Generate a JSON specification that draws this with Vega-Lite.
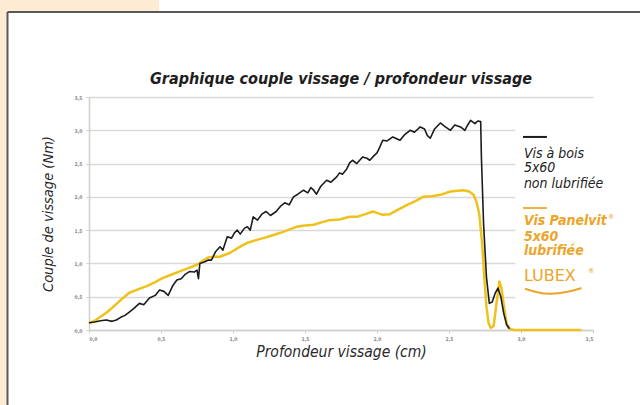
{
  "$schema": "https://vega.github.io/schema/vega-lite/v6.json",
  "width": 504,
  "height": 233,
  "autosize": {"type": "none"},
  "padding": {"left": 89, "top": 97, "right": 47, "bottom": 75},
  "background": "white",
  "config": {
    "view": {"stroke": null},
    "font": "DejaVu Sans Condensed, Liberation Sans Narrow, sans-serif"
  },
  "datasets": {
    "black": [
      {"x": 0.00, "y": 0.11}, {"x": 0.04, "y": 0.12}, {"x": 0.08, "y": 0.14}, {"x": 0.12, "y": 0.15},
      {"x": 0.16, "y": 0.13}, {"x": 0.19, "y": 0.15}, {"x": 0.22, "y": 0.19}, {"x": 0.25, "y": 0.22},
      {"x": 0.28, "y": 0.27}, {"x": 0.31, "y": 0.32}, {"x": 0.35, "y": 0.40}, {"x": 0.38, "y": 0.38},
      {"x": 0.42, "y": 0.48}, {"x": 0.46, "y": 0.52}, {"x": 0.49, "y": 0.60}, {"x": 0.52, "y": 0.58},
      {"x": 0.55, "y": 0.52}, {"x": 0.58, "y": 0.66}, {"x": 0.61, "y": 0.75}, {"x": 0.64, "y": 0.77},
      {"x": 0.67, "y": 0.84}, {"x": 0.70, "y": 0.88}, {"x": 0.73, "y": 0.87}, {"x": 0.75, "y": 0.90},
      {"x": 0.76, "y": 0.77}, {"x": 0.77, "y": 1.00}, {"x": 0.80, "y": 1.02}, {"x": 0.83, "y": 1.05},
      {"x": 0.85, "y": 1.05}, {"x": 0.88, "y": 1.18}, {"x": 0.91, "y": 1.25}, {"x": 0.93, "y": 1.20},
      {"x": 0.96, "y": 1.40}, {"x": 0.99, "y": 1.38}, {"x": 1.01, "y": 1.46}, {"x": 1.03, "y": 1.50},
      {"x": 1.05, "y": 1.44}, {"x": 1.08, "y": 1.53}, {"x": 1.10, "y": 1.55}, {"x": 1.12, "y": 1.50},
      {"x": 1.14, "y": 1.70}, {"x": 1.17, "y": 1.65}, {"x": 1.20, "y": 1.74}, {"x": 1.23, "y": 1.78},
      {"x": 1.26, "y": 1.72}, {"x": 1.30, "y": 1.78}, {"x": 1.33, "y": 1.86}, {"x": 1.36, "y": 1.91},
      {"x": 1.39, "y": 1.88}, {"x": 1.42, "y": 2.00}, {"x": 1.45, "y": 2.04}, {"x": 1.49, "y": 2.10},
      {"x": 1.52, "y": 2.06}, {"x": 1.54, "y": 2.14}, {"x": 1.56, "y": 2.10}, {"x": 1.58, "y": 2.04},
      {"x": 1.61, "y": 2.16}, {"x": 1.65, "y": 2.25}, {"x": 1.68, "y": 2.22}, {"x": 1.72, "y": 2.30},
      {"x": 1.74, "y": 2.36}, {"x": 1.76, "y": 2.34}, {"x": 1.79, "y": 2.42}, {"x": 1.81, "y": 2.51},
      {"x": 1.83, "y": 2.55}, {"x": 1.86, "y": 2.50}, {"x": 1.90, "y": 2.60}, {"x": 1.93, "y": 2.58},
      {"x": 1.95, "y": 2.55}, {"x": 1.98, "y": 2.62}, {"x": 2.00, "y": 2.66}, {"x": 2.02, "y": 2.75},
      {"x": 2.04, "y": 2.85}, {"x": 2.07, "y": 2.84}, {"x": 2.11, "y": 2.90}, {"x": 2.14, "y": 2.87},
      {"x": 2.16, "y": 2.85}, {"x": 2.19, "y": 2.93}, {"x": 2.23, "y": 3.00}, {"x": 2.26, "y": 2.97},
      {"x": 2.30, "y": 3.05}, {"x": 2.33, "y": 3.02}, {"x": 2.35, "y": 2.92}, {"x": 2.37, "y": 2.88},
      {"x": 2.40, "y": 3.02}, {"x": 2.44, "y": 3.11}, {"x": 2.47, "y": 3.06}, {"x": 2.51, "y": 3.00},
      {"x": 2.54, "y": 3.08}, {"x": 2.58, "y": 3.05}, {"x": 2.61, "y": 3.00}, {"x": 2.63, "y": 3.08},
      {"x": 2.65, "y": 3.15}, {"x": 2.68, "y": 3.10}, {"x": 2.70, "y": 3.14}, {"x": 2.72, "y": 3.13},
      {"x": 2.725, "y": 2.60}, {"x": 2.74, "y": 1.60}, {"x": 2.76, "y": 0.80}, {"x": 2.78, "y": 0.40},
      {"x": 2.80, "y": 0.42}, {"x": 2.82, "y": 0.55}, {"x": 2.84, "y": 0.63}, {"x": 2.86, "y": 0.50},
      {"x": 2.88, "y": 0.25}, {"x": 2.90, "y": 0.08}, {"x": 2.92, "y": 0.02}
    ],
    "yellow": [
      {"x": 0.00, "y": 0.10}, {"x": 0.04, "y": 0.14}, {"x": 0.08, "y": 0.20}, {"x": 0.12, "y": 0.26},
      {"x": 0.17, "y": 0.35}, {"x": 0.22, "y": 0.45}, {"x": 0.28, "y": 0.56}, {"x": 0.34, "y": 0.61},
      {"x": 0.40, "y": 0.66}, {"x": 0.46, "y": 0.72}, {"x": 0.51, "y": 0.78}, {"x": 0.57, "y": 0.83},
      {"x": 0.63, "y": 0.88}, {"x": 0.69, "y": 0.93}, {"x": 0.75, "y": 0.98}, {"x": 0.79, "y": 1.04},
      {"x": 0.83, "y": 1.09}, {"x": 0.87, "y": 1.10}, {"x": 0.91, "y": 1.10}, {"x": 0.98, "y": 1.16},
      {"x": 1.04, "y": 1.24}, {"x": 1.10, "y": 1.31}, {"x": 1.16, "y": 1.35}, {"x": 1.21, "y": 1.38},
      {"x": 1.27, "y": 1.42}, {"x": 1.33, "y": 1.46}, {"x": 1.38, "y": 1.50}, {"x": 1.44, "y": 1.55},
      {"x": 1.50, "y": 1.57}, {"x": 1.56, "y": 1.58}, {"x": 1.62, "y": 1.62}, {"x": 1.67, "y": 1.65},
      {"x": 1.74, "y": 1.66}, {"x": 1.81, "y": 1.70}, {"x": 1.86, "y": 1.70}, {"x": 1.92, "y": 1.74},
      {"x": 1.97, "y": 1.78}, {"x": 2.00, "y": 1.76}, {"x": 2.04, "y": 1.73}, {"x": 2.09, "y": 1.74},
      {"x": 2.14, "y": 1.80}, {"x": 2.21, "y": 1.88}, {"x": 2.27, "y": 1.94}, {"x": 2.32, "y": 2.00},
      {"x": 2.38, "y": 2.01}, {"x": 2.44, "y": 2.03}, {"x": 2.51, "y": 2.08}, {"x": 2.56, "y": 2.09},
      {"x": 2.60, "y": 2.10}, {"x": 2.64, "y": 2.08}, {"x": 2.67, "y": 2.03}, {"x": 2.69, "y": 1.93},
      {"x": 2.71, "y": 1.75}, {"x": 2.73, "y": 1.30}, {"x": 2.745, "y": 0.80}, {"x": 2.76, "y": 0.35},
      {"x": 2.775, "y": 0.10}, {"x": 2.79, "y": 0.03}, {"x": 2.81, "y": 0.06}, {"x": 2.83, "y": 0.40},
      {"x": 2.85, "y": 0.73}, {"x": 2.865, "y": 0.62}, {"x": 2.88, "y": 0.38}, {"x": 2.90, "y": 0.10},
      {"x": 2.92, "y": 0.02}, {"x": 2.95, "y": 0.00}, {"x": 3.42, "y": 0.00}
    ]
  },
  "encoding": {
    "x": {
      "field": "x",
      "type": "quantitative",
      "scale": {"domain": [0, 3.5], "nice": false, "zero": false},
      "axis": {
        "title": "Profondeur vissage (cm)",
        "values": [0, 0.5, 1, 1.5, 2, 2.5, 3, 3.5],
        "labelExpr": "replace(format(datum.value, '.1f'), '.', ',')",
        "grid": false,
        "domainColor": "#cfcfcf",
        "domainWidth": 1.5,
        "tickColor": "#cfcfcf",
        "tickSize": 3,
        "labelFontSize": 5,
        "labelFontWeight": "bold",
        "labelColor": "#8a8a8a",
        "labelPadding": 3,
        "titleFont": "DejaVu Sans Condensed, sans-serif",
        "titleFontSize": 15.5,
        "titleFontStyle": "italic",
        "titleFontWeight": "normal",
        "titleColor": "#2a2a2a",
        "titlePadding": 3
      }
    },
    "y": {
      "field": "y",
      "type": "quantitative",
      "scale": {"domain": [0, 3.5], "nice": false, "zero": false},
      "axis": {
        "title": "Couple de vissage (Nm)",
        "values": [0, 0.5, 1, 1.5, 2, 2.5, 3, 3.5],
        "labelExpr": "replace(format(datum.value, '.1f'), '.', ',')",
        "grid": true,
        "gridColor": "#d9d9d9",
        "gridWidth": 1.3,
        "domainColor": "#cfcfcf",
        "domainWidth": 1.5,
        "tickColor": "#cfcfcf",
        "tickSize": 3,
        "labelFontSize": 5,
        "labelFontWeight": "bold",
        "labelColor": "#8a8a8a",
        "labelPadding": 4,
        "titleFont": "DejaVu Sans Condensed, sans-serif",
        "titleFontSize": 14.5,
        "titleFontStyle": "italic",
        "titleFontWeight": "normal",
        "titleColor": "#2a2a2a",
        "titlePadding": 19
      }
    }
  },
  "layer": [
    {
      "data": {"values": [
        {"x": -0.62, "x2": 0.486, "y": 4.777, "y2": 4.96},
        {"x": -0.62, "x2": -0.566, "y": -1.2, "y2": 4.96}
      ]},
      "mark": {"type": "rect", "fill": "#FDEBD3", "clip": false},
      "encoding": {"x2": {"field": "x2"}, "y2": {"field": "y2"}}
    },
    {
      "data": {"values": [
        {"x": -0.566, "x2": 3.9, "y": 4.777, "y2": 4.777},
        {"x": -0.566, "x2": -0.566, "y": 4.777, "y2": -1.2}
      ]},
      "mark": {"type": "rule", "stroke": "#595959", "strokeWidth": 2, "clip": false},
      "encoding": {"x2": {"field": "x2"}, "y2": {"field": "y2"}}
    },
    {
      "data": {"values": [{"x": 1.75, "y": 3.775, "label": "Graphique couple vissage / profondeur vissage"}]},
      "mark": {"type": "text", "align": "center", "baseline": "middle", "fontSize": 16, "fontStyle": "italic", "fontWeight": "bold", "color": "#1e1e1e", "clip": false},
      "encoding": {"text": {"field": "label"}}
    },
    {
      "data": {"name": "yellow"},
      "mark": {"type": "line", "stroke": "#EEC21B", "strokeWidth": 2.5, "strokeJoin": "round"},
      "encoding": {}
    },
    {
      "data": {"name": "black"},
      "mark": {"type": "line", "stroke": "#1c1c1c", "strokeWidth": 1.6, "strokeJoin": "round"},
      "encoding": {}
    },
    {
      "data": {"values": [{"x": 2.96, "x2": 3.9, "y": 0.2, "y2": 3.25}]},
      "mark": {"type": "rect", "fill": "white", "clip": false},
      "encoding": {"x2": {"field": "x2"}, "y2": {"field": "y2"}}
    },
    {
      "data": {"values": [{"x": 3.014, "x2": 3.18, "y": 2.9}]},
      "mark": {"type": "rule", "stroke": "#1c1c1c", "strokeWidth": 2, "clip": false},
      "encoding": {"x2": {"field": "x2"}}
    },
    {
      "data": {"values": [{"x": 3.014, "x2": 3.18, "y": 1.833}]},
      "mark": {"type": "rule", "stroke": "#EDB43A", "strokeWidth": 2, "clip": false},
      "encoding": {"x2": {"field": "x2"}}
    },
    {
      "data": {"values": [
        {"x": 3.02, "y": 2.644, "label": "Vis à bois"},
        {"x": 3.02, "y": 2.433, "label": "5x60"},
        {"x": 3.02, "y": 2.193, "label": "non lubrifiée"}
      ]},
      "mark": {"type": "text", "align": "left", "baseline": "middle", "fontSize": 14, "fontStyle": "italic", "color": "#222222", "clip": false},
      "encoding": {"text": {"field": "label"}}
    },
    {
      "data": {"values": [
        {"x": 3.02, "y": 1.637, "label": "Vis Panelvit"},
        {"x": 3.02, "y": 1.397, "label": "5x60"},
        {"x": 3.02, "y": 1.187, "label": "lubrifiée"}
      ]},
      "mark": {"type": "text", "align": "left", "baseline": "middle", "fontSize": 14, "fontStyle": "italic", "fontWeight": "bold", "color": "#EBA52A", "clip": false},
      "encoding": {"text": {"field": "label"}}
    },
    {
      "data": {"values": [{"x": 3.02, "y": 0.811, "label": "LUBEX"}]},
      "mark": {"type": "text", "align": "left", "baseline": "middle", "fontSize": 16, "font": "DejaVu Sans", "color": "#EBA52A", "clip": false},
      "encoding": {"text": {"field": "label"}}
    },
    {
      "data": {"values": [
        {"x": 3.605, "y": 1.69, "label": "®"},
        {"x": 3.465, "y": 0.88, "label": "®"}
      ]},
      "mark": {"type": "text", "align": "left", "baseline": "middle", "fontSize": 7, "color": "#EBA52A", "clip": false},
      "encoding": {"text": {"field": "label"}}
    },
    {
      "data": {"values": [
        {"x": 3.028, "y": 0.62}, {"x": 3.10, "y": 0.57}, {"x": 3.2, "y": 0.53},
        {"x": 3.33, "y": 0.57}, {"x": 3.42, "y": 0.63}
      ]},
      "mark": {"type": "line", "stroke": "#EBA52A", "strokeWidth": 2, "interpolate": "basis", "clip": false},
      "encoding": {}
    }
  ]
}
